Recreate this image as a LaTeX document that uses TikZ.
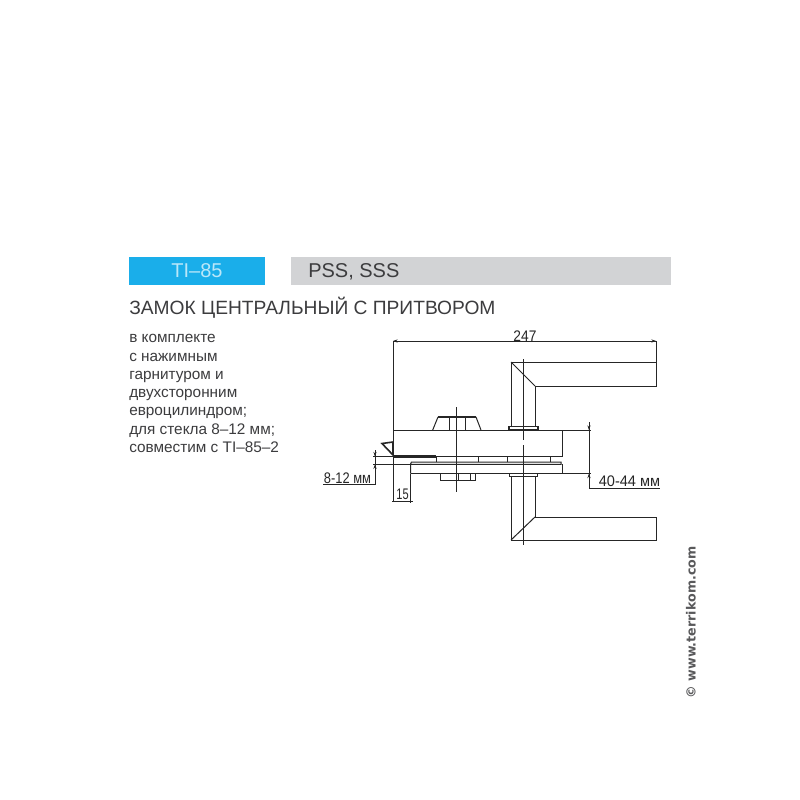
\documentclass[tikz,border=0pt]{standalone}
\usepackage{fontspec}
\setmainfont{Liberation Sans}
\newfontfamily\sitefont{DejaVu Sans}
\usepackage{tikz}
\usetikzlibrary{arrows.meta}
\definecolor{tiblue}{HTML}{1AAEEA}
\definecolor{tigray}{HTML}{D2D3D5}
\definecolor{inkgray}{HTML}{3C3C3E}
\definecolor{drawink}{HTML}{262626}
\tikzset{
    part/.style={draw=drawink, line width=0.75pt},
    heavy/.style={draw=drawink, line width=1.6pt},
    thinline/.style={draw=drawink, line width=0.55pt},
    dimtip/.style={draw=drawink, line width=0.55pt, -{Stealth[length=3.5pt,width=2.4pt]}},
    label/.style={inner sep=0pt, text=inkgray},
    bodytext/.style={label, anchor=base west, font=\fontsize{11.5}{11.5}\selectfont},
    dimlabel/.style={inner sep=0pt, text=drawink, font=\fontsize{11.5}{11.5}\selectfont, transform shape},
}
\begin{document}
\begin{tikzpicture}[x=0.75pt, y=-0.75pt]
    \useasboundingbox (0,0) rectangle (800,800);
    \fill[white] (0,0) rectangle (800,800);

    \fill[tiblue] (129,257) rectangle (265,285);
    \fill[tigray] (291,257) rectangle (671,285);
    \node[label, text=white!70!tiblue, font=\fontsize{15}{15}\selectfont] (code) at (197,271) {TI–85};
    \node[label, anchor=base west, font=\fontsize{15}{15}\selectfont] (finish) at (308,277.5) {PSS, SSS};
    \node[label, anchor=base west, font=\fontsize{14.4}{14.4}\selectfont] (title) at (129,314) {ЗАМОК ЦЕНТРАЛЬНЫЙ С ПРИТВОРОМ};

    \node[bodytext] (t1) at (129,342) {в комплекте};
    \node[bodytext] (t2) at (129,361) {с нажимным};
    \node[bodytext] (t3) at (129,379) {гарнитуром и};
    \node[bodytext] (t4) at (129,397) {двухсторонним};
    \node[bodytext] (t5) at (129,415.5) {евроцилиндром;};
    \node[bodytext] (t6) at (129,434) {для стекла 8–12 мм;};
    \node[bodytext] (t7) at (129,452) {совместим с TI–85–2};

    % upper handle
    \draw[part] (511,427) -- (511,362) -- (656,362) -- (656,386) -- (535,386) -- (535,427);
    \draw[part] (511,362) -- (535,386);
    \draw[heavy, line width=1.1pt] (509,426.5) rectangle (538,430);
    \draw[thinline] (523,359) -- (523,440);

    % lower handle
    \draw[part] (509,473) -- (509,476.7) -- (537.7,476.7) -- (537.7,473);
    \draw[part] (511,476.7) -- (511,540) -- (656,540) -- (656,517) -- (535,517) -- (535,476.7);
    \draw[part] (511,540) -- (535,517);
    \draw[thinline] (523,445) -- (523,545);

    % lock body
    \draw[part] (393,430) -- (562,430) -- (562,456.5) -- (436,456.5);
    \draw[heavy] (393,456.5) -- (436,456.5);
    \draw[part] (436.7,456.5) -- (436.7,462) (478,456.5) -- (478,462);
    \draw[part] (507,456.5) -- (507,462) (550,456.5) -- (550,462);
    \draw[part] (410.5,473.5) -- (410.5,464) -- (411.5,462) -- (561,462) -- (561,464.3) -- (410.5,464.3);
    \draw[part] (410.5,473.5) -- (562,473.5) -- (562,464.3);
    \draw[part] (440,473.5) rectangle (475.7,480.7);
    \draw[part] (458,473.5) -- (458,480.7) (470.7,473.5) -- (470.7,480.7);

    % knob
    \draw[part] (432.7,430) -- (438,417) (476,417) -- (481,430);
    \draw[heavy] (438,417) -- (476,417);
    \draw[part] (449,417) -- (449,430) (465,417) -- (465,430);
    \draw[thinline] (456.5,407) -- (456.5,492);

    % latch
    \draw[heavy, line width=1.2pt] (393,442) -- (382,443.5) -- (393,455) -- cycle;

    % dimensions
    \draw[part] (393,341) -- (393,501.5) (393,341) -- (656,341) -- (656,362);
    \draw[thinline] (562,430) -- (591,430) (562,473.5) -- (591,473.5);
    \draw[thinline] (373,456.5) -- (393,456.5) (373,464.3) -- (410.5,464.3);
    \draw[thinline] (392,501) -- (413,501) (410.5,473.5) -- (410.5,503);
    \draw[thinline] (323,484.5) -- (375,484.5) -- (375,450);
    \draw[thinline] (589,422) -- (589,488) -- (660,488);
    \draw[dimtip] (399,341) -- (393,341);
    \draw[dimtip] (650,341) -- (656,341);
    \draw[dimtip] (375,450) -- (375,456.5);
    \draw[dimtip] (375,471) -- (375,464.3);
    \draw[dimtip] (589,423) -- (589,430);
    \draw[dimtip] (589,481) -- (589,473.5);

    \node[dimlabel, xscale=0.9] (d247) at (525,336) {247};
    \node[dimlabel, xscale=0.84] (d812) at (347.5,478.5) {8-12 мм};
    \node[dimlabel, xscale=0.72] (d15) at (402.5,494.5) {15};
    \node[dimlabel, xscale=0.95] (d4044) at (629.5,481.5) {40-44 мм};

    \node[label, rotate=90, text=inkgray!85, font=\sitefont\bfseries\fontsize{9.5}{9.5}\selectfont] (site) at (691,622.5) {© www.terrikom.com};
\end{tikzpicture}
\end{document}
